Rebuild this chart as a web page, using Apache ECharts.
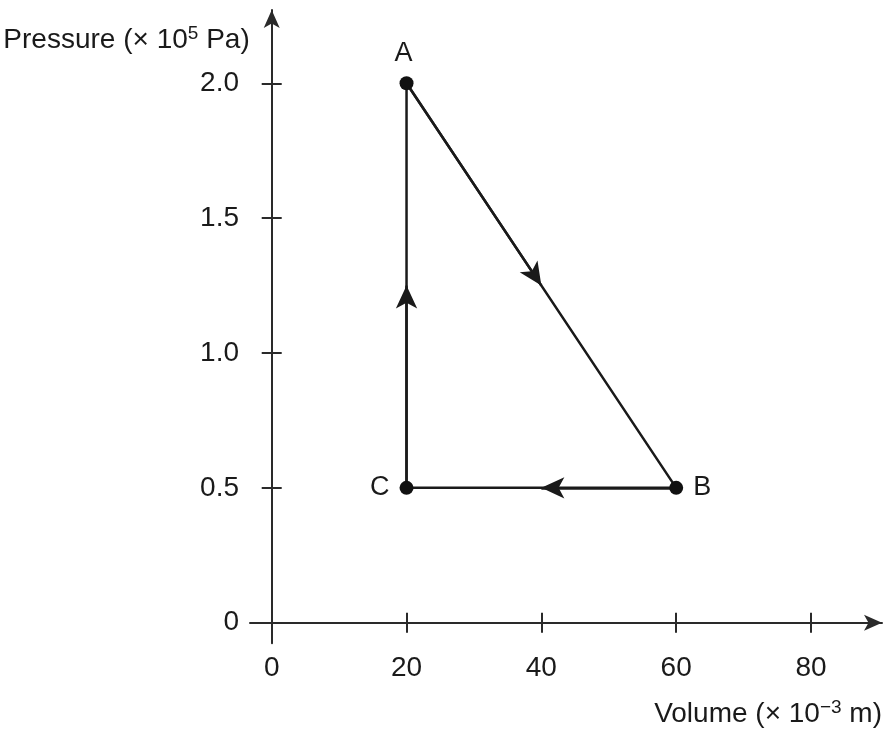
<!DOCTYPE html>
<html><head><meta charset="utf-8">
<script src="https://cdn.jsdelivr.net/npm/echarts@6/dist/echarts.min.js"></script>
<style>html,body{margin:0;padding:0;background:#fff}#c{width:893px;height:737px}</style>
</head><body><div id="c"></div>
<script>
// ---- data ----
const pointNames = ['A', 'B', 'C'];
const volumes = [20, 60, 20];      // x10^-3 m
const pressures = [2.0, 0.5, 0.5]; // x10^5 Pa
const cycleOrder = [0, 1, 2, 0];   // A -> B -> C -> A
const xTicks = [0, 20, 40, 60, 80];
const yTicks = [0, 0.5, 1.0, 1.5, 2.0];
const xName = 'Volume';
const yName = 'Pressure';

// ---- layout ----
const FONT = '"Liberation Sans", Arial, Helvetica, sans-serif';
const INK = '#1a1a1a';
const AX = '#2a2a2a';
const xMin = -3.22, xMax = 90.53;
const yMin = -0.0764, yMax = 2.2718;

const chart = echarts.init(document.getElementById('c'), null, {renderer: 'canvas'});

const labelSide = {A: 'top', B: 'right', C: 'left'};
const pts = pointNames.map((n, i) => ({
  name: n,
  value: [volumes[i], pressures[i]],
  label: {position: labelSide[n], offset: n === 'A' ? [-3, 1] : [0, 0], color: INK}
}));
const path = cycleOrder.map(i => [volumes[i], pressures[i]]);
const arrowLines = [];
for (let k = 0; k < cycleOrder.length - 1; k++) {
  const a = cycleOrder[k], b = cycleOrder[k + 1];
  arrowLines.push([
    {coord: [volumes[a], pressures[a]]},
    {coord: [(volumes[a] + volumes[b]) / 2, (pressures[a] + pressures[b]) / 2]}
  ]);
}

const tickLine = {color: AX, width: 2};
const labelStyle = {color: INK, fontSize: 28, fontFamily: FONT};
const nameRich = {
  t: {fontSize: 28, fontFamily: FONT, color: INK, lineHeight: 32},
  s: {fontSize: 19, fontFamily: FONT, color: INK, verticalAlign: 'top', lineHeight: 19}
};

chart.setOption({
  animation: false,
  backgroundColor: '#fff',
  grid: {left: 250, right: 11, top: 10, bottom: 93.7, containLabel: false, outerBoundsMode: 'none'},
  xAxis: [
    {
      type: 'value', min: xMin, max: xMax, position: 'bottom',
      axisLine: {show: true, onZero: true, onZeroAxisIndex: 0, symbol: ['none', 'arrow'], symbolSize: [12, 18],
        lineStyle: {color: AX, width: 2}},
      axisTick: {show: true, customValues: xTicks, length: 10, inside: false, lineStyle: tickLine},
      axisLabel: Object.assign({show: true, customValues: xTicks, margin: 11}, labelStyle),
      splitLine: {show: false},
      name: '{t|' + xName + ' (\u00d7 10}{s|\u22123}{t| m)}',
      nameLocation: 'end', nameGap: 0, nameMoveOverlap: false,
      nameTextStyle: {align: 'right', verticalAlign: 'top', padding: [76, 0, 0, 0], rich: nameRich}
    },
    {
      type: 'value', min: xMin, max: xMax, position: 'top',
      axisLine: {show: true, onZero: true, onZeroAxisIndex: 0, lineStyle: {color: AX, width: 2, opacity: 0}},
      axisTick: {show: true, customValues: xTicks, length: 10, inside: false, lineStyle: tickLine},
      axisLabel: {show: false},
      splitLine: {show: false}
    }
  ],
  yAxis: [
    {
      type: 'value', min: yMin, max: yMax, position: 'left',
      axisLine: {show: true, onZero: true, onZeroAxisIndex: 0, symbol: ['none', 'arrow'], symbolSize: [12, 18],
        lineStyle: {color: AX, width: 2}},
      axisTick: {show: true, customValues: yTicks, length: 10, inside: false, lineStyle: tickLine},
      axisLabel: Object.assign({show: true, customValues: yTicks, margin: 11,
        formatter: v => (v === 0 ? '0' : v.toFixed(1))}, labelStyle),
      splitLine: {show: false},
      name: '{t|' + yName + ' (\u00d7 10}{s|5}{t| Pa)}',
      nameLocation: 'end', nameGap: 0, nameMoveOverlap: false,
      nameTextStyle: {align: 'right', verticalAlign: 'top', padding: [14, 22, 0, 0], rich: nameRich}
    },
    {
      type: 'value', min: yMin, max: yMax, position: 'right',
      axisLine: {show: true, onZero: true, onZeroAxisIndex: 0, lineStyle: {color: AX, width: 2, opacity: 0}},
      axisTick: {show: true, customValues: yTicks, length: 10, inside: false, lineStyle: tickLine},
      axisLabel: {show: false},
      splitLine: {show: false}
    }
  ],
  series: [
    {
      type: 'line', xAxisIndex: 0, yAxisIndex: 0,
      data: path, symbol: 'none', lineStyle: {color: INK, width: 2.5}, z: 3,
      markLine: {
        silent: true, animation: false,
        symbol: ['none', 'arrow'], symbolSize: [16, 23],
        label: {show: false},
        lineStyle: {color: INK, width: 2.5, type: 'solid'},
        emphasis: {disabled: true},
        data: arrowLines
      }
    },
    {
      type: 'scatter', xAxisIndex: 0, yAxisIndex: 0,
      data: pts, symbol: 'circle', symbolSize: 14, z: 5,
      itemStyle: {color: '#111', opacity: 1},
      label: {show: true, formatter: p => p.name, color: INK, fontSize: 27, fontFamily: FONT, distance: 10}
    }
  ]
});
</script>
</body></html>
